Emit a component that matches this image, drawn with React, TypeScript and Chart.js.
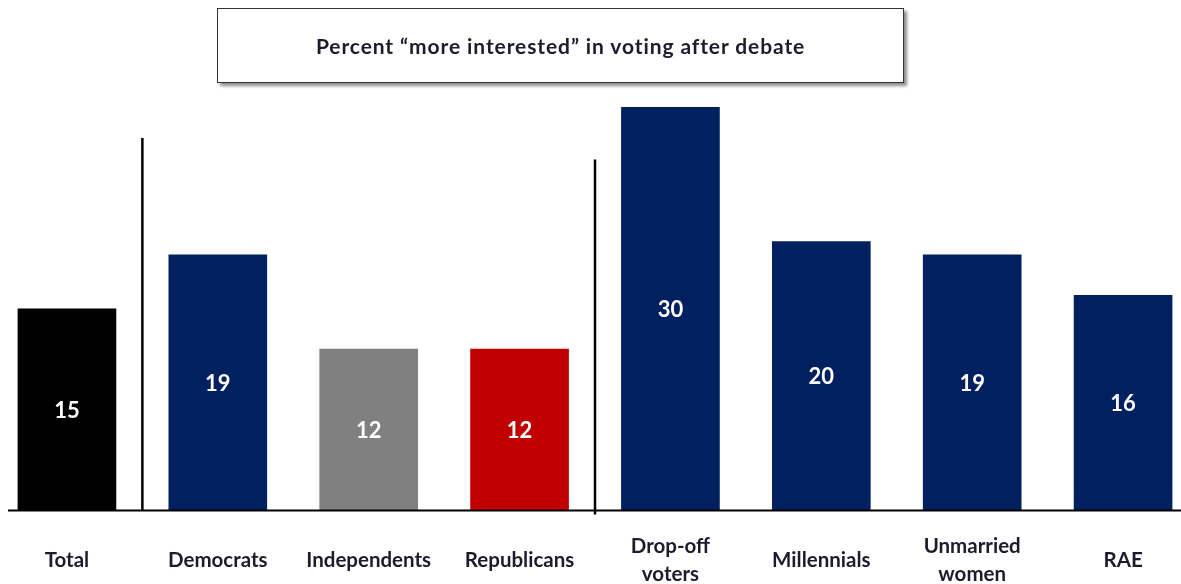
import React, { useEffect, useRef } from "react";
import { Chart, registerables } from "chart.js";

Chart.register(...registerables);

const categories: (string | string[])[] = [
  "Total",
  "Democrats",
  "Independents",
  "Republicans",
  ["Drop-off", "voters"],
  "Millennials",
  ["Unmarried", "women"],
  "RAE",
];
const values: number[] = [15, 19, 12, 12, 30, 20, 19, 16];
const barColors: string[] = [
  "#000000",
  "#002060",
  "#808080",
  "#C00000",
  "#002060",
  "#002060",
  "#002060",
  "#002060",
];
const titleText = "Percent \u201cmore interested\u201d in voting after debate";
// dividers: drawn between category index pairs, top given in axis units
const dividerAfter: number[] = [0, 3];
const dividerTop: number[] = [27.7, 26.1];

const FONT = "Lato, 'Open Sans', sans-serif";

export default function App() {
  const ref = useRef<HTMLCanvasElement | null>(null);

  useEffect(() => {
    const canvas = ref.current!;
    const decor = {
      id: "decor",
      afterDatasetsDraw(chart: any) {
        const ctx = chart.ctx;
        const xs = chart.scales.x;
        const ys = chart.scales.y;
        const area = chart.chartArea;
        ctx.save();
        // value labels
        const meta = chart.getDatasetMeta(0);
        ctx.fillStyle = "#ffffff";
        ctx.font = `bold 22px ${FONT}`;
        ctx.textAlign = "center";
        ctx.textBaseline = "middle";
        meta.data.forEach((bar: any, i: number) => {
          ctx.fillText(String(values[i]), bar.x, (bar.y + bar.base) / 2 + 1);
        });
        // baseline
        ctx.strokeStyle = "#000";
        ctx.lineWidth = 2;
        ctx.beginPath();
        ctx.moveTo(28, area.bottom);
        ctx.lineTo(chart.width, area.bottom);
        ctx.stroke();
        // dividers
        ctx.lineWidth = 2.5;
        dividerAfter.forEach((idx, k) => {
          const x = (xs.getPixelForValue(idx) + xs.getPixelForValue(idx + 1)) / 2;
          ctx.beginPath();
          ctx.moveTo(x, ys.getPixelForValue(dividerTop[k]));
          ctx.lineTo(x, area.bottom + (k === 1 ? 4 : 0));
          ctx.stroke();
        });
        ctx.restore();
      },
    };
    const chart = new Chart(canvas, {
      type: "bar",
      data: {
        labels: categories,
        datasets: [
          {
            data: values,
            backgroundColor: barColors,
            borderWidth: 0,
            barThickness: 98,
          },
        ],
      },
      options: {
        responsive: false,
        animation: false,
        devicePixelRatio: 1,
        layout: { padding: { top: 107, left: 11.5, right: 21.5, bottom: 0 } },
        plugins: {
          legend: { display: false },
          tooltip: { enabled: false },
          title: { display: false },
        },
        scales: {
          x: {
            grid: { display: false, drawTicks: false },
            border: { display: false },
            afterFit: (scale: any) => {
              scale.height = 73.5;
            },
            ticks: {
              autoSkip: false,
              maxRotation: 0,
              minRotation: 0,
              crossAlign: "center",
              padding: 35.5,
              color: "#1c1c2c",
              font: { family: FONT, weight: "bold", size: 20.5, lineHeight: 1.366 },
            },
          },
          y: {
            display: false,
            min: 0,
            max: 30,
          },
        },
      },
      plugins: [decor],
    });
    return () => chart.destroy();
  }, []);

  return (
    <div
      style={{
        position: "fixed",
        left: 0,
        top: 0,
        width: 1181,
        height: 584,
        overflow: "hidden",
        background: "#fff",
      }}
    >
      <canvas
        ref={ref}
        width={1240}
        height={584}
        style={{ position: "absolute", left: -20, top: 0, width: 1240, height: 584 }}
      />
      <div
        style={{
          position: "absolute",
          left: 217,
          top: 8,
          width: 687,
          height: 75,
          boxSizing: "border-box",
          border: "1.5px solid #333",
          boxShadow: "3px 3px 3px rgba(0,0,0,0.45)",
          background: "#fff",
          display: "flex",
          alignItems: "center",
          justifyContent: "center",
          fontFamily: FONT,
          fontWeight: "bold",
          fontSize: 21,
          letterSpacing: "0.9px",
          color: "#1c1c2c",
        }}
      >
        {titleText}
      </div>
    </div>
  );
}
